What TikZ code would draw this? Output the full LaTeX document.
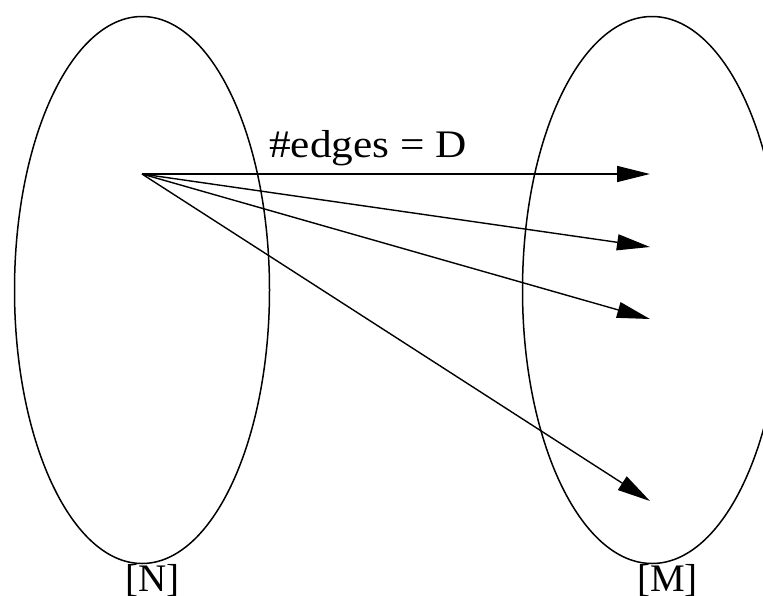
\documentclass[tikz,border=0pt]{standalone}
\usepackage{fontspec}
\setmainfont{Liberation Serif}
\newfontfamily\widefont[FakeStretch=1.11]{Liberation Serif}
\usetikzlibrary{arrows.meta, shapes.geometric}

\begin{document}
\begin{tikzpicture}[
	x=1pt, y=-1pt,
	>={Triangle[length=33pt, width=16pt]},
	setbox/.style={ellipse, draw, line width=1.5pt, inner sep=0pt, minimum width=255pt, minimum height=547pt},
	edge/.style={->, line width=1.4pt},
	label_text/.style={inner sep=0pt, anchor=base west, font=\fontsize{39}{44}\selectfont}
	]
	\useasboundingbox (0,0) rectangle (763,595);
	
	% The two sets
	\node[setbox] (setN) at (142,290) {};
	\node[setbox, minimum width=259pt] (setM) at (652,290) {};
	\node[label_text] (nameN) at (125,591) {[N]};
	\node[label_text] (nameM) at (637,591) {[M]};
	
	% Source vertex and its neighbours
	\coordinate (src) at (142,174);
	\coordinate (nbA) at (650,174);
	\coordinate (nbB) at (650,247);
	\coordinate (nbC) at (650,319);
	\coordinate (nbD) at (650,501);
	
	% Edges
	\draw[edge] (src) -- (nbA);
	\draw[edge] (src) -- (nbB);
	\draw[edge] (src) -- (nbC);
	\draw[edge] (src) -- (nbD);
	\node[label_text, font=\widefont\fontsize{39}{44}\selectfont] (deg) at (269,157) {\#edges = D};
	
\end{tikzpicture}
\end{document}
